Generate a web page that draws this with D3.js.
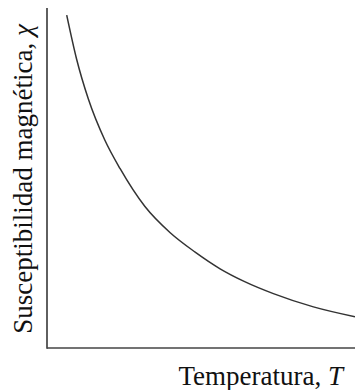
<!DOCTYPE html>
<html>
<head>
<meta charset="utf-8">
<script src="https://cdn.jsdelivr.net/npm/d3@7"></script>
<style>
html,body{margin:0;padding:0;background:#fff;}
svg{display:block;}
</style>
</head>
<body>
<svg id="chart" width="355" height="390"></svg>
<script>
// Curie-law style curve, arbitrary units
const temperature = [6.4, 9.6, 13.4, 18.8, 23.7, 31.8, 40.0, 48.1, 56.2, 64.0, 73.5, 86.5, 100];
const susceptibility = [97.9, 85.0, 73.3, 61.1, 52.8, 41.6, 33.9, 28.2, 23.3, 19.6, 16.0, 12.1, 9.2];
const xLabel = "Temperatura, ";
const xSymbol = "T";
const yLabel = "Susceptibilidad magnética, ";
const ySymbol = "χ";

const svg = d3.select("#chart");
const margin = {left: 47, right: 0, top: 8, bottom: 42};
const W = 355, H = 390;
const x = d3.scaleLinear().domain([0, 100]).range([margin.left, W - margin.right]);
const y = d3.scaleLinear().domain([0, 100]).range([H - margin.bottom, margin.top]);

const data = temperature.map((t, i) => ({t, c: susceptibility[i]}));

// axes (plain lines, no ticks)
svg.append("line")
  .attr("x1", x(0)).attr("x2", x(0))
  .attr("y1", y(100)).attr("y2", y(0) + 0.8)
  .attr("stroke", "#444").attr("stroke-width", 1.7);
svg.append("line")
  .attr("x1", x(0)).attr("x2", x(100))
  .attr("y1", y(0)).attr("y2", y(0))
  .attr("stroke", "#444").attr("stroke-width", 1.7);

// curve
const line = d3.line().x(d => x(d.t)).y(d => y(d.c)).curve(d3.curveMonotoneX);
svg.append("path")
  .datum(data)
  .attr("d", line)
  .attr("fill", "none")
  .attr("stroke", "#333")
  .attr("stroke-width", 1.5);

// x label
const xt = svg.append("text")
  .attr("x", 343).attr("y", 385)
  .attr("text-anchor", "end")
  .attr("font-family", "Liberation Serif, Times New Roman, serif")
  .attr("font-size", 27)
  .attr("fill", "#111");
xt.append("tspan").text(xLabel);
xt.append("tspan").attr("font-style", "italic").text(xSymbol);

// y label
const yt = svg.append("text")
  .attr("transform", "translate(32,179) rotate(-90)")
  .attr("text-anchor", "middle")
  .attr("font-family", "Liberation Serif, Times New Roman, serif")
  .attr("font-size", 27)
  .attr("fill", "#111");
yt.append("tspan").text(yLabel);
yt.append("tspan").attr("font-style", "italic").text(ySymbol);
</script>
</body>
</html>
